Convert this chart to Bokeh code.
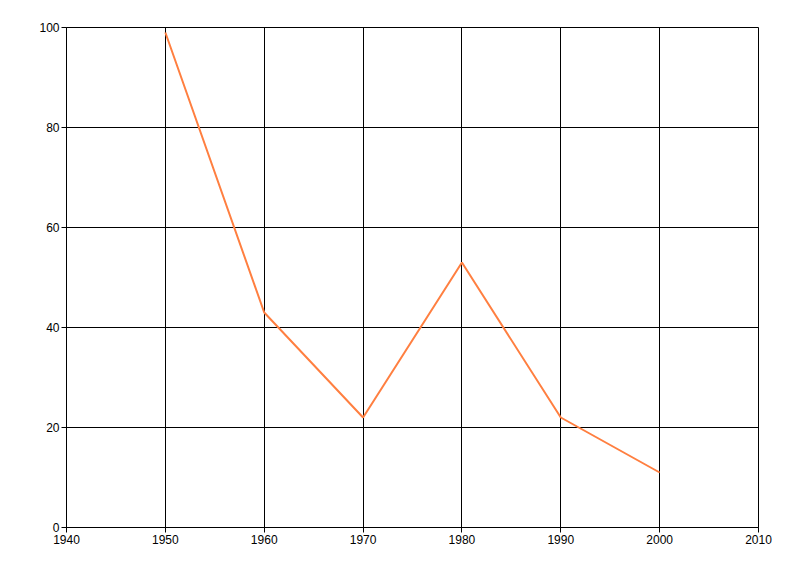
from bokeh.plotting import figure
from bokeh.models import FixedTicker, Range1d
from bokeh.embed import file_html
from bokeh.resources import INLINE

years = [1950, 1960, 1970, 1980, 1990, 2000]
values = [99, 43, 22, 53, 22, 11]
x_ticks = [1940, 1950, 1960, 1970, 1980, 1990, 2000, 2010]
y_ticks = [0, 20, 40, 60, 80, 100]

p = figure(frame_width=692, frame_height=500, output_backend="svg", toolbar_location=None,
           x_range=Range1d(1940, 2010), y_range=Range1d(0, 100),
           min_border_left=66, min_border_right=34, min_border_top=27, min_border_bottom=41)
p.outline_line_color = "black"
p.background_fill_color = "white"
p.border_fill_color = "white"

for ax, ticks in ((p.xaxis, x_ticks), (p.yaxis, y_ticks)):
    ax.ticker = FixedTicker(ticks=ticks)
    ax.axis_line_color = "black"
    ax.major_tick_line_color = "black"
    ax.major_tick_out = 5
    ax.major_tick_in = 0
    ax.minor_tick_line_color = None
    ax.major_label_text_font = "Liberation Sans"
    ax.major_label_text_font_size = "12px"
    ax.major_label_text_color = "black"
    ax.major_label_standoff = 2

for g in (p.xgrid, p.ygrid):
    g.grid_line_color = "black"
    g.grid_line_alpha = 1.0
    g.grid_line_width = 1

p.line(years, values, line_color="#FF7F40", line_width=2)

open("out.html", "w").write(file_html(p, INLINE))
